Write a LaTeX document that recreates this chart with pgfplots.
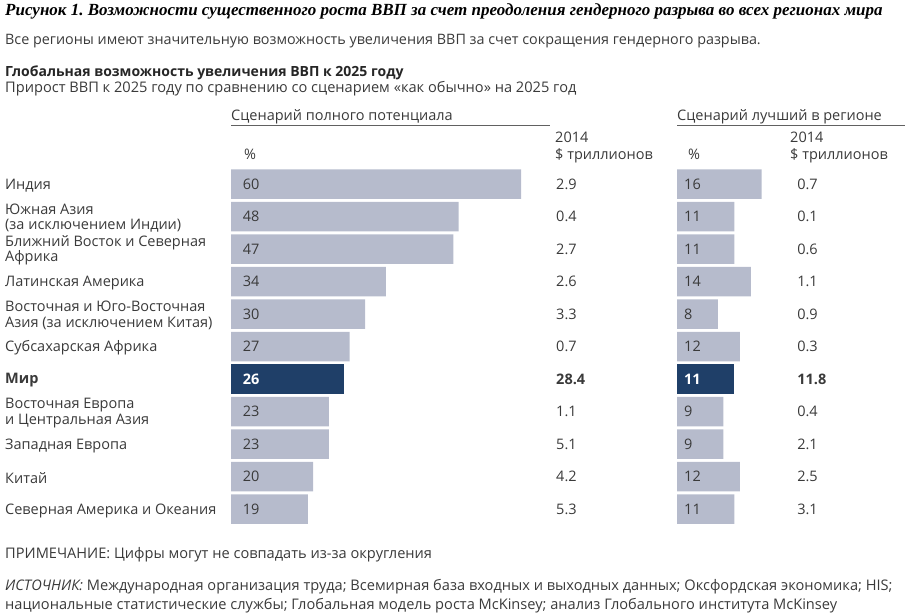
\documentclass[border=0pt]{standalone}
\usepackage{pgfplots}
\pgfplotsset{compat=1.18}
\usepackage{pgfplotstable}
\usepackage{fontspec}
\setmainfont{Open Sans}
\newfontfamily\titlefont{Liberation Serif}
\definecolor{barlight}{HTML}{B6BBCC}
\definecolor{bardark}{HTML}{1F3F68}
\definecolor{txt}{HTML}{3A3A3A}
\frenchspacing

\pgfplotstableread{
row full fullusd best bestusd
1 60 2.9 16 0.7
2 48 0.4 11 0.1
3 47 2.7 11 0.6
4 34 2.6 14 1.1
5 30 3.3 8 0.9
6 27 0.7 12 0.3
8 23 1.1 9 0.4
9 23 5.1 9 2.1
10 20 4.2 12 2.5
11 19 5.3 11 3.1
}\regions
\pgfplotstableread{
row full fullusd best bestusd
7 26 28.4 11 11.8
}\world

\newcommand{\lbl}{\fontsize{14.5}{15.5}\selectfont}
\newcommand{\body}{\fontsize{14.6}{16}\selectfont}

\pgfplotsset{
  panel/.style={scale only axis, hide axis, y dir=reverse, ymin=0.5, ymax=11.5,
    height=357.5pt, anchor=north west},
  barstyle/.style={xbar, bar shift=0pt, bar width=29.5pt, draw=none},
  labstyle/.style={only marks, mark=none, nodes near coords, point meta=explicit symbolic,
    nodes near coords align=horizontal,
    every node near coord/.append style={anchor=west, inner sep=0pt, font=\lbl, text=txt}},
}

\begin{document}
\begin{tikzpicture}
\useasboundingbox (0,0) rectangle (912pt,-614pt);

% ---------- left panel ----------
\begin{axis}[panel, at={(231pt,-167.75pt)}, width=290pt, xmin=4.18, xmax=60]
\addplot[barstyle, fill=barlight] table[x=full, y=row] {\regions};
\addplot[barstyle, fill=bardark] table[x=full, y=row] {\world};
\end{axis}
\begin{axis}[panel, at={(231pt,-167.75pt)}, width=290pt, xmin=4.18, xmax=60, clip=false]
\addplot[labstyle, every node near coord/.append style={xshift=11.7pt}]
  table[x expr=4.18, y=row, meta=full] {\regions};
\addplot[labstyle, every node near coord/.append style={xshift=11.7pt, text=white, font=\lbl\bfseries}]
  table[x expr=4.18, y=row, meta=full] {\world};
\addplot[labstyle] table[x expr=66.74, y=row, meta=fullusd] {\regions};
\addplot[labstyle, every node near coord/.append style={font=\lbl\bfseries}]
  table[x expr=66.74, y=row, meta=fullusd] {\world};
\end{axis}

% ---------- right panel ----------
\begin{axis}[panel, at={(677pt,-167.75pt)}, width=84.7pt, xmin=0.5, xmax=16]
\addplot[barstyle, fill=barlight] table[x=best, y=row] {\regions};
\addplot[barstyle, fill=bardark] table[x=best, y=row] {\world};
\end{axis}
\begin{axis}[panel, at={(677pt,-167.75pt)}, width=84.7pt, xmin=0.5, xmax=16, clip=false]
\addplot[labstyle, every node near coord/.append style={xshift=7pt}]
  table[x expr=0.5, y=row, meta=best] {\regions};
\addplot[labstyle, every node near coord/.append style={xshift=7pt, text=white, font=\lbl\bfseries}]
  table[x expr=0.5, y=row, meta=best] {\world};
\addplot[labstyle] table[x expr=22.48, y=row, meta=bestusd] {\regions};
\addplot[labstyle, every node near coord/.append style={font=\lbl\bfseries}]
  table[x expr=22.48, y=row, meta=bestusd] {\world};
\end{axis}

% ---------- texts ----------
\begin{scope}[x=1pt, y=-1pt, every node/.style={inner sep=0pt, text=txt}]
\node[anchor=base west, text=black] at (5,15.5) {\titlefont\fontsize{17}{18}\selectfont\bfseries\itshape Рисунок 1. Возможности существенного роста ВВП за счет преодоления гендерного разрыва во всех регионах мира};
\node[anchor=base west] at (5,44) {\fontsize{14.35}{16}\selectfont Все регионы имеют значительную возможность увеличения ВВП за счет сокращения гендерного разрыва.};
\node[anchor=base west, text=black!85] at (5,76) {\fontsize{14}{16}\selectfont\bfseries Глобальная возможность увеличения ВВП к 2025 году};
\node[anchor=base west] at (5,92.5) {\body Прирост ВВП к 2025 году по сравнению со сценарием «как обычно» на 2025 год};

\node[anchor=base west] at (231,120) {\lbl Сценарий полного потенциала};
\draw[txt!80, line width=0.9pt] (231,125.5) -- (550,125.5);
\node[anchor=base west] at (677,120) {\lbl Сценарий лучший в регионе};
\draw[txt!80, line width=0.9pt] (677,125.5) -- (905,125.5);

\node[anchor=base west] at (244,159) {\lbl \%};
\node[anchor=base west] at (555,142) {\lbl 2014};
\node[anchor=base west] at (555,159) {\lbl \$ триллионов};
\node[anchor=base west] at (688,159) {\lbl \%};
\node[anchor=base west] at (790,142) {\lbl 2014};
\node[anchor=base west] at (790,159) {\lbl \$ триллионов};

\begin{scope}[every node/.style={inner sep=0pt, text=txt, anchor=west, align=left, font=\lbl}, yshift=-1.5pt]
\node at (5,184) {Индия};
\node at (5,216.5) {Южная Азия\\(за исключением Индии)};
\node at (5,249) {Ближний Восток и Северная\\Африка};
\node at (5,281.5) {Латинская Америка};
\node at (5,314) {Восточная и Юго-Восточная\\Азия (за исключением Китая)};
\node at (5,346.5) {Субсахарская Африка};
\node at (5,379) {\bfseries Мир};
\node at (5,411.5) {Восточная Европа\\и Центральная Азия};
\node at (5,444) {Западная Европа};
\node at (5,476.5) {Китай};
\node at (5,509) {Северная Америка и Океания};
\end{scope}

\node[anchor=base west] at (5,558) {\body ПРИМЕЧАНИЕ: Цифры могут не совпадать из-за округления};
\node[anchor=base west] at (5,590) {\body\textit{ИСТОЧНИК:} Международная организация труда; Всемирная база входных и выходных данных; Оксфордская экономика; HIS;};
\node[anchor=base west] at (5,609.5) {\body национальные статистические службы; Глобальная модель роста McKinsey; анализ Глобального института McKinsey};
\end{scope}
\end{tikzpicture}
\end{document}
